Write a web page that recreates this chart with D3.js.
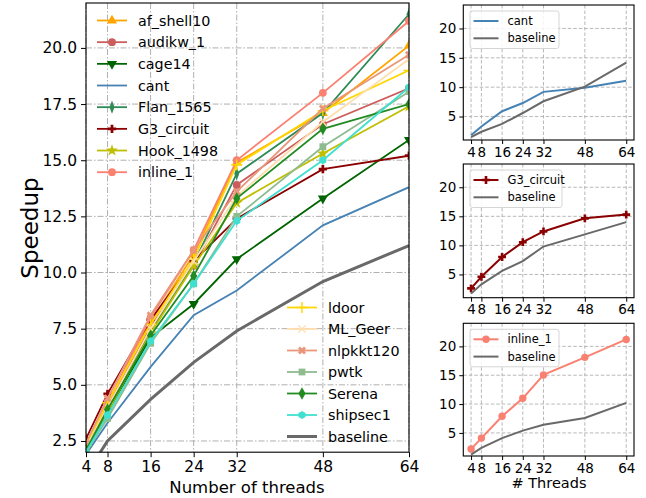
<!DOCTYPE html>
<html>
<head>
<meta charset="utf-8">
<script src="https://cdn.jsdelivr.net/npm/d3@7"></script>
<style>
  body { margin: 0; background: #fff; }
  text { font-family: "DejaVu Sans", sans-serif; }
</style>
</head>
<body>
<div id="chart-area"></div>
<script>
const W = 646, H = 498;

const threads = [4, 8, 16, 24, 32, 48, 64];
const names = ['af_shell10', 'audikw_1', 'cage14', 'cant', 'Flan_1565', 'G3_circuit', 'Hook_1498', 'inline_1',
               'ldoor', 'ML_Geer', 'nlpkkt120', 'pwtk', 'Serena', 'shipsec1', 'baseline'];

const af_shell10 = [2.3, 4.1, 7.8, 10.8, 14.9, 17.1, 20.1];
const audikw_1   = [2.2, 4.0, 7.6, 10.3, 13.9, 16.6, 18.2];
const cage14     = [2.1, 3.8, 7.1, 8.6, 10.6, 13.3, 15.9];
const cant       = [1.9, 3.3, 5.8, 8.1, 9.2, 12.1, 13.8];
const Flan_1565  = [2.2, 3.9, 7.4, 10.4, 14.4, 17.1, 21.5];
const G3_circuit = [2.6, 4.6, 7.9, 10.5, 12.4, 14.6, 15.2];
const Hook_1498  = [2.2, 3.8, 7.3, 10.3, 13.1, 15.3, 17.4];
const inline_1   = [2.2, 4.2, 8.0, 11.0, 15.0, 18.0, 21.2];
const ldoor      = [2.3, 4.2, 7.7, 10.6, 14.8, 17.2, 19.0];
const ML_Geer    = [2.2, 4.0, 7.5, 10.5, 13.4, 16.7, 19.5];
const nlpkkt120  = [2.4, 4.4, 8.1, 11.0, 13.6, 17.3, 19.7];
const pwtk       = [2.0, 3.5, 6.85, 9.5, 12.5, 15.6, 18.05];
const Serena     = [2.1, 3.9, 7.2, 9.85, 13.3, 16.4, 17.5];
const shipsec1   = [2.0, 3.65, 6.95, 9.5, 12.3, 15.0, 18.25];
const baseline   = [1.0, 2.5, 4.35, 6.0, 7.4, 9.6, 11.2];

// small panels: own matrix speedup vs its baseline
const cantSub     = [1.8, 3.3, 5.9, 7.3, 9.2, 9.9, 11.1];
const cantBase    = [1.5, 2.4, 3.75, 5.6, 7.6, 10.1, 14.2];
const g3Sub       = [2.6, 4.6, 8.0, 10.55, 12.4, 14.65, 15.3];
const g3Base      = [1.7, 3.3, 5.6, 7.3, 9.8, 11.9, 14.0];
const inlineSub   = [2.2, 4.1, 7.9, 11.0, 15.05, 18.1, 21.2];
const inlineBase  = [1.25, 2.4, 4.1, 5.4, 6.4, 7.6, 10.2];

const mainTicksY = [2.5, 5.0, 7.5, 10.0, 12.5, 15.0, 17.5, 20.0];
const subTicksY = [5, 10, 15, 20];

const values = [af_shell10, audikw_1, cage14, cant, Flan_1565, G3_circuit, Hook_1498, inline_1,
                ldoor, ML_Geer, nlpkkt120, pwtk, Serena, shipsec1, baseline];
const colors = ['#FFA500', '#CD5C5C', '#006400', '#4682B4', '#2E8B57', '#8B0000', '#BFBF00', '#FA8072',
                '#FFD700', '#FFDEAD', '#E9967A', '#8FBC8F', '#228B22', '#40E0D0', '#696969'];
const markers = ['tri', 'circle', 'trid', null, 'thind', 'plus', 'star', 'circle',
                 'cross', 'times', 'xfill', 'square', 'diamond', 'hex', null];

const series = names.map((n, i) => ({ name: n, vals: values[i], color: colors[i], marker: markers[i] }));

let svg = d3.select('#chart-area').append('svg').attr('width', W).attr('height', H);

const hexPath = (r) => {
    let p = d3.path();
    for (let k = 0; k < 6; k++) {
        let a = Math.PI / 2 + k * Math.PI / 3;
        if (k === 0) p.moveTo(r * Math.cos(a), -r * Math.sin(a)); else p.lineTo(r * Math.cos(a), -r * Math.sin(a));
    }
    p.closePath();
    return p.toString();
};

function drawMarker(g, type, x, y, color, s) {
    s = s || 1;
    let sym = null, tr = `translate(${x},${y})`, stroke = false;
    if (type === 'tri') sym = d3.symbol(d3.symbolTriangle, 44 * s);
    else if (type === 'trid') { sym = d3.symbol(d3.symbolTriangle, 44 * s); tr += ' rotate(180)'; }
    else if (type === 'circle') sym = d3.symbol(d3.symbolCircle, 48 * s);
    else if (type === 'square') sym = d3.symbol(d3.symbolSquare, 46 * s);
    else if (type === 'diamond') sym = d3.symbol(d3.symbolDiamond, 44 * s);
    else if (type === 'thind') { sym = d3.symbol(d3.symbolDiamond, 50 * s); tr += ' scale(0.65,1)'; }
    else if (type === 'plus') sym = d3.symbol(d3.symbolCross, 38 * s);
    else if (type === 'xfill') { sym = d3.symbol(d3.symbolCross, 40 * s); tr += ' rotate(45)'; }
    else if (type === 'star') sym = d3.symbol(d3.symbolStar, 44 * s);
    else if (type === 'cross') { sym = d3.symbol(d3.symbolPlus, 42 * s); stroke = true; }
    else if (type === 'times') { sym = d3.symbol(d3.symbolTimes, 36 * s); stroke = true; }
    if (type === 'hex') {
        g.append('path').attr('d', hexPath(4.1 * Math.sqrt(s))).attr('transform', tr).attr('fill', color);
        return;
    }
    if (!sym) return;
    let m = g.append('path').attr('d', sym()).attr('transform', tr);
    if (stroke) m.attr('fill', 'none').attr('stroke', color).attr('stroke-width', 1.4);
    else m.attr('fill', color);
}

// ---------- main plot ----------
const L = 86, R = 409, T = 3, B = 452.2;
let x = d3.scaleLinear().domain([4, 64]).range([L, R]);
let y = d3.scaleLinear().domain([2, 22]).range([B, T]);

svg.append('clipPath').attr('id', 'clipMain').append('rect')
    .attr('x', L).attr('y', T).attr('width', R - L).attr('height', B - T);

let grid = svg.append('g').attr('stroke', '#b0b0b0').attr('stroke-width', 1).attr('stroke-dasharray', '6,2,1.5,2');
threads.forEach((t) => {
    grid.append('line').attr('x1', x(t)).attr('x2', x(t)).attr('y1', T).attr('y2', B);
});
mainTicksY.forEach((v) => {
    grid.append('line').attr('x1', L).attr('x2', R).attr('y1', y(v)).attr('y2', y(v));
});

let line = d3.line().x((d, i) => x(threads[i])).y((d) => y(d));
let plot = svg.append('g').attr('clip-path', 'url(#clipMain)');
series.forEach((s) => {
    plot.append('path').attr('d', line(s.vals)).attr('fill', 'none')
        .attr('stroke', s.color).attr('stroke-width', s.name === 'baseline' ? 3 : 1.8);
    if (s.marker) s.vals.forEach((v, i) => drawMarker(plot, s.marker, x(threads[i]), y(v), s.color));
});

svg.append('g').attr('transform', `translate(0,${B})`)
    .call(d3.axisBottom(x).tickValues(threads).tickSize(5).tickPadding(4).tickFormat(d3.format('d')))
    .call((g) => g.select('.domain').remove())
    .selectAll('text').attr('font-size', 15.5).attr('fill', '#000');
svg.append('g').attr('transform', `translate(${L},0)`)
    .call(d3.axisLeft(y).tickValues(mainTicksY).tickSize(5).tickPadding(4).tickFormat(d3.format('.1f')))
    .call((g) => g.select('.domain').remove())
    .selectAll('text').attr('font-size', 15.5).attr('fill', '#000');
svg.append('rect').attr('x', L).attr('y', T).attr('width', R - L).attr('height', B - T)
    .attr('fill', 'none').attr('stroke', '#000').attr('stroke-width', 1.1);

svg.append('text').attr('x', 247).attr('y', 493).attr('text-anchor', 'middle')
    .attr('font-size', 16.5).text('Number of threads');
svg.append('text').attr('transform', 'translate(38,228) rotate(-90)').attr('text-anchor', 'middle')
    .attr('font-size', 23).text('Speedup');

function legend(g, items, x0, y0, step, fs, hw) {
    items.forEach((s, i) => {
        let yy = y0 + i * step;
        g.append('line').attr('x1', x0).attr('x2', x0 + hw).attr('y1', yy).attr('y2', yy)
            .attr('stroke', s.color).attr('stroke-width', s.name === 'baseline' ? 3 : 1.8);
        if (s.marker) drawMarker(g, s.marker, x0 + hw / 2, yy, s.color);
        g.append('text').attr('x', x0 + hw + 11).attr('y', yy).attr('dy', '0.36em')
            .attr('font-size', fs).text(s.name);
    });
}
legend(svg.append('g'), series.slice(0, 8), 97, 20.5, 21.67, 14.3, 30);
legend(svg.append('g'), series.slice(8), 287, 307.5, 21.5, 14.3, 30);

// ---------- small panels ----------
const sL = 463.3, sR = 634;
let sx = d3.scaleLinear().domain([1, 67]).range([sL, sR]);
const panels = [
    { top: 5, bottom: 140, own: cantSub, base: cantBase, s: series[3] },
    { top: 164, bottom: 297.7, own: g3Sub, base: g3Base, s: series[5] },
    { top: 323.3, bottom: 456, own: inlineSub, base: inlineBase, s: series[7] }
];

panels.forEach((p, k) => {
    let sy = d3.scaleLinear().domain([1, 24]).range([p.bottom, p.top]);
    let g = svg.append('g');
    let gg = g.append('g').attr('stroke', '#b0b0b0').attr('stroke-width', 0.9).attr('stroke-dasharray', '3.5,2');
    threads.forEach((t) => gg.append('line').attr('x1', sx(t)).attr('x2', sx(t)).attr('y1', p.top).attr('y2', p.bottom));
    subTicksY.forEach((v) => gg.append('line').attr('x1', sL).attr('x2', sR).attr('y1', sy(v)).attr('y2', sy(v)));

    let sline = d3.line().x((d, i) => sx(threads[i])).y((d) => sy(d));
    g.append('path').attr('d', sline(p.own)).attr('fill', 'none').attr('stroke', p.s.color).attr('stroke-width', 2);
    if (p.s.marker) p.own.forEach((v, i) => drawMarker(g, p.s.marker, sx(threads[i]), sy(v), p.s.color, 0.9));
    g.append('path').attr('d', sline(p.base)).attr('fill', 'none').attr('stroke', '#696969').attr('stroke-width', 2);

    g.append('g').attr('transform', `translate(0,${p.bottom})`)
        .call(d3.axisBottom(sx).tickValues(threads).tickSize(4).tickPadding(3).tickFormat(d3.format('d')))
        .call((a) => a.select('.domain').remove())
        .selectAll('text').attr('font-size', 13.5).attr('fill', '#000');
    g.append('g').attr('transform', `translate(${sL},0)`)
        .call(d3.axisLeft(sy).tickValues(subTicksY).tickSize(4).tickPadding(3))
        .call((a) => a.select('.domain').remove())
        .selectAll('text').attr('font-size', 13.5).attr('fill', '#000');
    g.append('rect').attr('x', sL).attr('y', p.top).attr('width', sR - sL).attr('height', p.bottom - p.top)
        .attr('fill', 'none').attr('stroke', '#000').attr('stroke-width', 1.1);

    // framed legend
    let lg = g.append('g');
    let lw = p.s.name === 'G3_circuit' ? 92 : 89;
    lg.append('rect').attr('x', 470).attr('y', p.top + 6).attr('width', lw).attr('height', 37.5).attr('rx', 2.5)
        .attr('fill', 'rgba(255,255,255,0.85)').attr('stroke', '#d0d0d0').attr('stroke-width', 0.9);
    let items = [{ name: p.s.name, color: p.s.color, marker: p.s.marker }, { name: 'baseline', color: '#696969' }];
    items.forEach((it, i) => {
        let yy = p.top + 16 + i * 17.3;
        lg.append('line').attr('x1', 473.5).attr('x2', 498.5).attr('y1', yy).attr('y2', yy)
            .attr('stroke', it.color).attr('stroke-width', 2);
        if (it.marker) drawMarker(lg, it.marker, 486, yy, it.color, 0.9);
        lg.append('text').attr('x', 507.5).attr('y', yy).attr('dy', '0.36em').attr('font-size', 11.5).text(it.name);
    });
});

svg.append('text').attr('x', 549).attr('y', 488).attr('text-anchor', 'middle')
    .attr('font-size', 14.5).text('# Threads');
</script>
</body>
</html>
